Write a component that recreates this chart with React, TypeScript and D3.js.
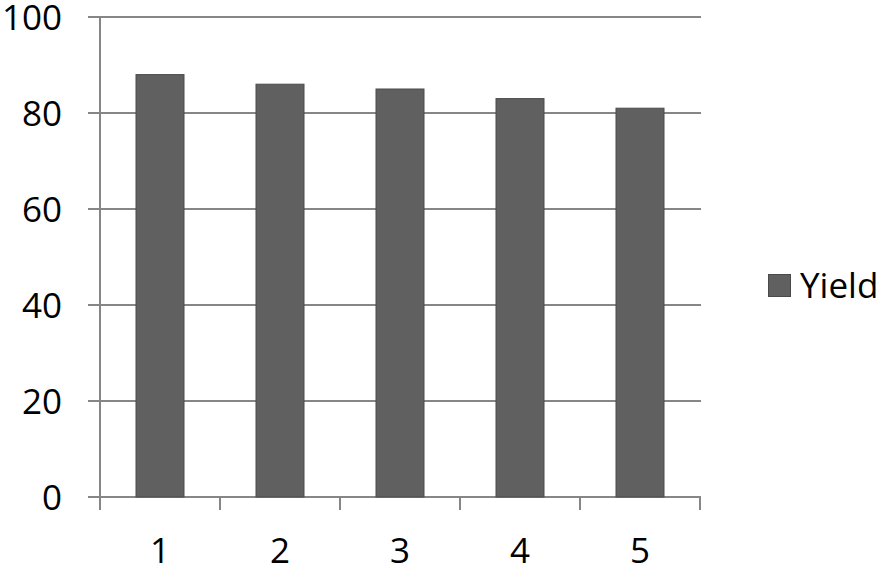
import React from "react";
import * as d3 from "d3";

const categories = ["1", "2", "3", "4", "5"];
const yieldValues = [88, 86, 85, 83, 81];
const yTicks = [0, 20, 40, 60, 80, 100];
const seriesName = "Yield";

export default function App() {
  const W = 883, H = 567;
  const left = 100, right = 700, top = 17, bottom = 497;
  const x = d3.scaleBand<string>().domain(categories).range([left, right]).paddingInner(0.6).paddingOuter(0.3);
  const y = d3.scaleLinear().domain([0, 100]).range([bottom, top]);
  const step = x.step();
  const font = "'Open Sans', sans-serif";
  const grid = "#868686";
  return (
    <svg width={W} height={H} style={{ position: "absolute", left: 0, top: 0, background: "#fff" }}>
      {yTicks.map((t) => (
        <g key={t}>
          <line x1={88} x2={701} y1={y(t)} y2={y(t)} stroke={grid} strokeWidth={2} />
          <text x={62} y={y(t)} dy="0.36em" textAnchor="end" fontFamily={font} fontSize={35} fill="#000">{t}</text>
        </g>
      ))}
      <line x1={left} x2={left} y1={top} y2={bottom + 13} stroke={grid} strokeWidth={2} />
      {categories.map((c, i) => (
        <line key={"t" + c} x1={left + (i + 1) * step} x2={left + (i + 1) * step} y1={bottom} y2={bottom + 13} stroke={grid} strokeWidth={2} />
      ))}
      {categories.map((c, i) => (
        <rect key={c} x={x(c)} y={y(yieldValues[i])} width={x.bandwidth()} height={bottom - y(yieldValues[i])}
          fill="#606060" stroke="#4a4a4a" strokeWidth={1} />
      ))}
      {categories.map((c) => (
        <text key={"l" + c} x={(x(c) as number) + x.bandwidth() / 2} y={563} textAnchor="middle" fontFamily={font} fontSize={35} fill="#000">{c}</text>
      ))}
      <rect x={768.5} y={274.5} width={22} height={22} fill="#606060" stroke="#4a4a4a" strokeWidth={1} />
      <text x={800} y={298} fontFamily={font} fontSize={35} fill="#000">{seriesName}</text>
    </svg>
  );
}
